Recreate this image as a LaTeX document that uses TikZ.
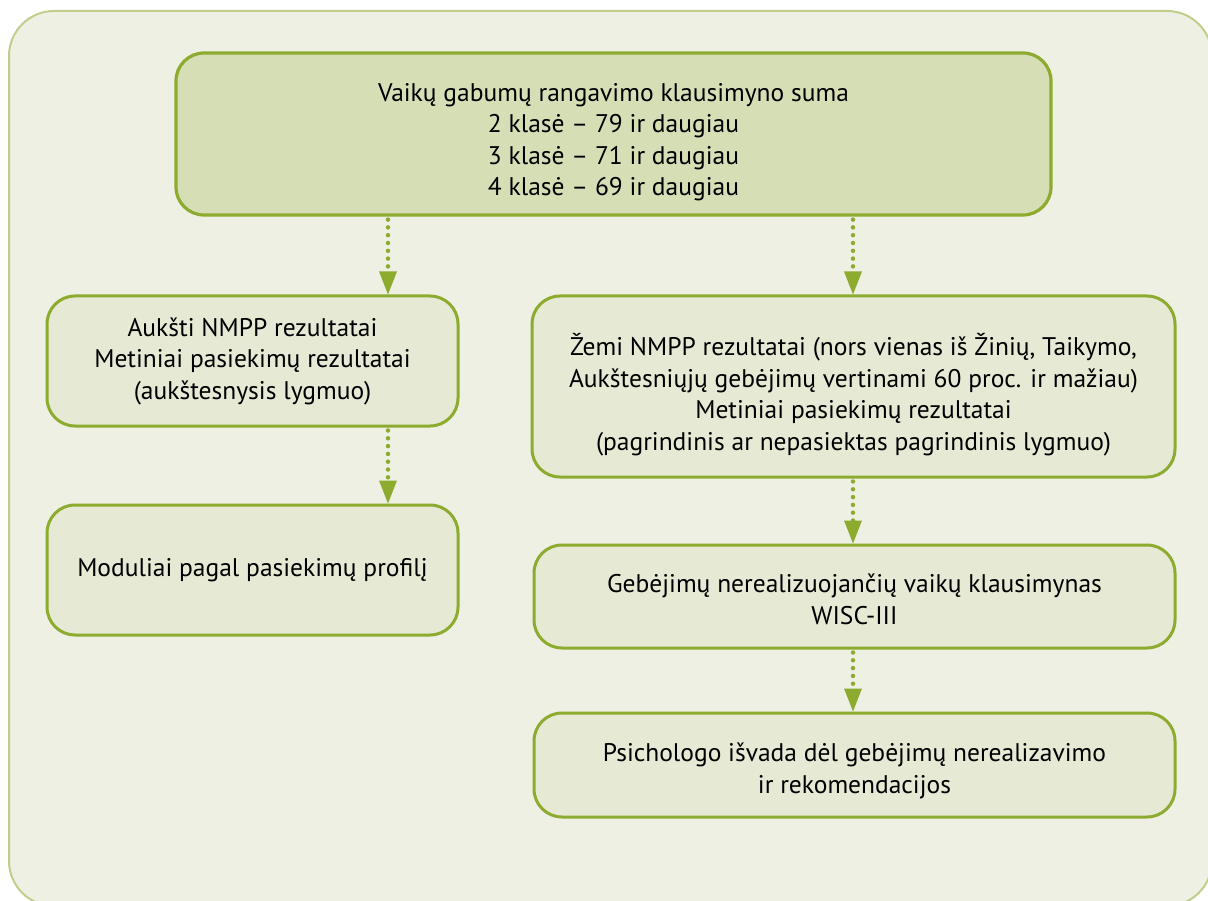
\documentclass[tikz,border=0pt]{standalone}
\usepackage{fontspec}
\setmainfont{PT Sans}
\usetikzlibrary{arrows.meta}
\definecolor{frameedge}{HTML}{BFCF8B}
\definecolor{framefill}{HTML}{EEF0E3}
\definecolor{boxedge}{HTML}{8DAB2E}
\definecolor{topfill}{HTML}{D6DEB6}
\definecolor{boxfill}{HTML}{E6E9D4}
\tikzset{
  x=1pt,y=1pt,
  stepbox/.style={draw=boxedge, line width=3pt, fill=boxfill, rounded corners=28pt, inner sep=0pt},
  topbox/.style={stepbox, fill=topfill, line width=3.2pt},
  boxtext/.style={align=center, inner sep=0pt, font=\fontsize{25.5}{31.5}\selectfont},
  conn/.style={draw=boxedge, line width=4.5pt, line cap=round, dash pattern=on 0pt off 7.8pt,
    -{Triangle[width=18pt,length=23pt,line width=0pt]}, color=boxedge, shorten <=3pt}
}
\begin{document}
\begin{tikzpicture}
\useasboundingbox (0,0) rectangle (1208,-901);
\draw[frameedge, fill=framefill, line width=2pt, rounded corners=45pt] (9,-11) rectangle (1212,-906);

\node[topbox, minimum width=875pt, minimum height=162pt] (top) at (613.5,-134) {};
\node[boxtext] (toptext) at ([yshift=-8pt]top.center) {Vaikų gabumų rangavimo klausimyno suma\\2 klasė – 79 ir daugiau\\3 klasė – 71 ir daugiau\\4 klasė – 69 ir daugiau};

\node[stepbox, minimum width=411pt, minimum height=130pt] (l1) at (252.5,-361) {};
\node[boxtext] (l1text) at (l1.center) {Aukšti NMPP rezultatai\\Metiniai pasiekimų rezultatai\\(aukštesnysis lygmuo)};
\node[stepbox, minimum width=411pt, minimum height=130pt] (l2) at (252.5,-570) {};
\node[boxtext] (l2text) at (l2.center) {Moduliai pagal pasiekimų profilį};

\node[stepbox, minimum width=643pt, minimum height=181pt] (r1) at (853.5,-386.5) {};
\node[boxtext] (r1text) at ([yshift=-8pt]r1.center) {Žemi NMPP rezultatai (nors vienas iš Žinių, Taikymo,\\Aukštesniųjų gebėjimų vertinami 60 proc. ir mažiau)\\Metiniai pasiekimų rezultatai\\(pagrindinis ar nepasiektas pagrindinis lygmuo)};
\node[stepbox, minimum width=641pt, minimum height=103pt] (r2) at (854.5,-596.5) {};
\node[boxtext] (r2text) at ([yshift=-3pt]r2.center) {Gebėjimų nerealizuojančių vaikų klausimynas\\WISC-III};
\node[stepbox, minimum width=641pt, minimum height=104pt] (r3) at (854.5,-765) {};
\node[boxtext] (r3text) at ([yshift=-6pt]r3.center) {Psichologo išvada dėl gebėjimų nerealizavimo\\ir rekomendacijos};

\coordinate (ax1) at (388,0);
\coordinate (ax2) at (853,0);
\draw[conn] (top.south -| ax1) -- (l1.north -| ax1);
\draw[conn] (top.south -| ax2) -- (r1.north -| ax2);
\draw[conn] (l1.south -| ax1) -- (l2.north -| ax1);
\draw[conn] (r1.south -| ax2) -- (r2.north -| ax2);
\draw[conn] (r2.south -| ax2) -- (r3.north -| ax2);
\end{tikzpicture}
\end{document}
